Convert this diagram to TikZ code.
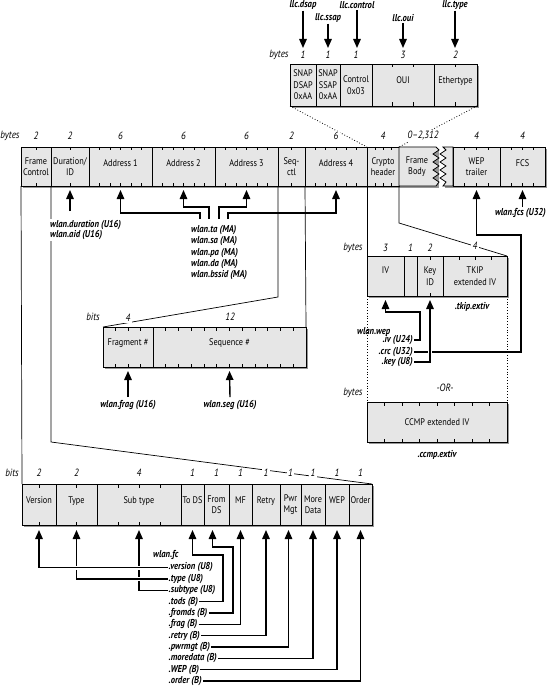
\documentclass[tikz,border=0pt]{standalone}
\usepackage{fontspec}
\setmainfont{PT Sans}[FakeStretch=0.86]
\usetikzlibrary{arrows.meta}
\definecolor{boxfill}{RGB}{230,230,230}
\definecolor{shadowc}{RGB}{150,150,150}
\newcommand\fld[6]{\node[fbox, minimum width={(#3-#2)*1pt}, minimum height={(#5-#4)*1pt}] (#1) at ({(#2+#3)/2},{(#4+#5)/2}) {#6};}
\newcommand\tks[3]{\foreach \tx in {#3} {\draw[tickln] (\tx,#1) -- ++(0,3.5) (\tx,#2) -- ++(0,-3.5);}}
\newcommand\shd[4]{\fill[shadowc] ({#1+1.6},{#3+1.6}) rectangle ({#2+1.6},{#4+1.6});}
\newcommand\rb[2]{\raisebox{#1}{#2}}
\newcommand\nm[4]{\node[num] (#1) at (#2,#3) {#4};}
\begin{document}
\begin{tikzpicture}[x=1pt,y=-1pt,
  fbox/.style={draw, fill=boxfill, line width=0.8pt, inner sep=0pt, outer sep=0pt, align=center, font=\fontsize{9.6}{11.6}\selectfont},
  tickln/.style={line width=0.7pt},
  lbl/.style={font=\fontsize{10}{11}\selectfont\bfseries\itshape, inner sep=1pt},
  num/.style={font=\fontsize{10.5}{12}\selectfont\itshape, fill=white, inner sep=1.5pt},
  arr/.style={line width=1.4pt, -{Triangle[width=7.5pt,length=9pt]}},
  halo/.style={white, line width=4pt},
  conn/.style={line width=0.7pt},
  dots/.style={line width=0.8pt, dotted}
]
\fill[white] (0,0) rectangle (548,687);
\useasboundingbox (0,0) rectangle (548,687);

% ---------- SNAP row ----------
\shd{290}{477}{64}{106}
\fld{dsap}{290}{316}{64}{106}{SNAP\\DSAP\\0xAA}
\fld{ssap}{316}{340}{64}{106}{SNAP\\SSAP\\0xAA}
\fld{ctl}{340}{372}{64}{106}{Control\\0x03}
\fld{oui}{372}{434}{64}{106}{\rb{10pt}{OUI}}
\fld{eth}{434}{477}{64}{106}{\rb{10pt}{Ethertype}}
\tks{64}{106}{392.7,413.3,455.5}

% ---------- main row ----------
\shd{21}{437}{147}{186}
\shd{443}{545}{147}{186}
\fld{fc}{21}{51}{147}{186}{Frame\\Control}
\fld{dur}{51}{89}{147}{186}{Duration/\\ID}
\fld{aa}{89}{152}{147}{186}{\rb{7pt}{Address 1}}
\fld{ab}{152}{215}{147}{186}{\rb{7pt}{Address 2}}
\fld{ac}{215}{278}{147}{186}{\rb{7pt}{Address 3}}
\fld{sq}{278}{305}{147}{186}{Seq-\\ctl}
\fld{ad}{305}{367}{147}{186}{\rb{7pt}{Address 4}}
\fld{cr}{367}{399}{147}{186}{Crypto\\header}
\filldraw[fill=boxfill, line width=0.8pt] (399,147) -- (436,147) -- (439,150) -- (433,154) -- (439,158) -- (433,162) -- (439,166) -- (433,170) -- (439,174) -- (433,178) -- (439,182) -- (436,186) -- (399,186) -- cycle;
\filldraw[fill=boxfill, line width=0.8pt] (453,147) -- (443,147) -- (446,150) -- (440,154) -- (446,158) -- (440,162) -- (446,166) -- (440,170) -- (446,174) -- (440,178) -- (446,182) -- (443,186) -- (453,186) -- cycle;
\node[fbox, draw=none, fill=none] (bd) at (417,166.5) {Frame\\Body};
\fld{wt}{453}{500}{147}{186}{WEP\\trailer}
\fld{fcs}{500}{545}{147}{186}{\rb{7pt}{FCS}}
\tks{147}{186}{36,70,99.5,110,120.5,131,141.5,162.5,173,183.5,194,204.5,225.5,236,246.5,257,267.5,291.5,315.3,325.7,336,346.3,356.7,375,383,391,464.75,476.5,488.25,511.25,522.5,533.75}

% ---------- crypto row ----------
\shd{367}{507}{256}{296}
\fld{iv}{367}{404}{256}{296}{\rb{11pt}{IV}}
\fld{pad}{404}{417}{256}{296}{}
\fld{kid}{417}{443}{256}{296}{Key\\ID}
\fld{tkip}{443}{507}{256}{296}{TKIP\\extended IV}
\tks{256}{296}{430}
\foreach \tx in {459,475,491} {\draw[tickln] (\tx,256) -- ++(0,3.5);}

% ---------- CCMP ----------
\shd{367}{507}{402}{442}
\fld{ccmp}{367}{507}{402}{442}{CCMP extended IV}
\tks{402}{442}{384.5,402,419.5,437,454.5,472,489.5}

% ---------- fragment row ----------
\shd{103}{306}{327}{367}
\fld{frag}{103}{153}{327}{367}{\rb{10pt}{Fragment \#}}
\fld{seqn}{153}{306}{327}{367}{\rb{10pt}{Sequence \#}}
\tks{327}{367}{115.5,128,140.5,165.75,178.5,191.25,204,216.75,229.5,242.25,255,267.75,280.5,293.25}

% ---------- frame control row ----------
\shd{22}{372}{484}{525}
\fld{ver}{22}{56}{484}{525}{\rb{9pt}{Version}}
\fld{typ}{56}{97}{484}{525}{\rb{9pt}{Type}}
\fld{sub}{97}{181}{484}{525}{\rb{9pt}{Sub type}}
\fld{tods}{181}{204}{484}{525}{\rb{9pt}{To DS}}
\fld{frds}{204}{229}{484}{525}{From\\DS}
\fld{mf}{229}{252}{484}{525}{\rb{9pt}{MF}}
\fld{rtry}{252}{280}{484}{525}{\rb{9pt}{Retry}}
\fld{pwr}{280}{301}{484}{525}{Pwr\\Mgt}
\fld{more}{301}{325}{484}{525}{More\\Data}
\fld{wepb}{325}{349}{484}{525}{\rb{9pt}{WEP}}
\fld{ord}{349}{372}{484}{525}{\rb{9pt}{Order}}
\tks{484}{525}{39,76.5,118,139,160}

% ---------- labels used as connector ends ----------
\node[lbl] (ldsap) at (303,5) {llc.dsap};
\node[lbl] (lssap) at (328,18) {llc.ssap};
\node[lbl] (lctl) at (357,5) {llc.control};
\node[lbl] (loui) at (403,18) {llc.oui};
\node[lbl] (ltype) at (455,5) {llc.type};
\coordinate (tdsap) at (303,48);
\coordinate (tssap) at (328,48);
\coordinate (tctl) at (357,48);
\coordinate (toui) at (403,48);
\coordinate (ttype) at (455,48);

\node[lbl, anchor=west] (lta) at (190,230) {wlan.ta (MA)};
\node[lbl, anchor=west] (lsa) at (190,241.5) {wlan.sa (MA)};
\node[lbl, anchor=west] (lpa) at (190,253) {wlan.pa (MA)};
\node[lbl, anchor=west] (lda) at (190,264) {wlan.da (MA)};
\node[lbl, anchor=west] (lbssid) at (190,275) {wlan.bssid (MA)};

\node[lbl, anchor=east] (lfcs) at (547,213) {wlan.fcs (U32)};
\node[lbl] (ltkip) at (472,307) {.tkip.extiv};
\node[lbl, anchor=west] (lwep) at (356,332) {wlan.wep};
\node[lbl, anchor=east] (liv) at (414,340) {.iv (U24)};
\node[lbl, anchor=east] (lcrc) at (414,352) {.crc (U32)};
\node[lbl, anchor=east] (lkey) at (414,362) {.key (U8)};
\node[lbl] (lccmp) at (437,455) {.ccmp.extiv};

\node[lbl] (lfrag) at (128,405) {wlan.frag (U16)};
\node[lbl] (lseg) at (230,405) {wlan.seg (U16)};

\node[lbl, anchor=west] (lfc) at (152,555) {wlan.fc};
\node[lbl, anchor=west] (lver) at (167.5,567.5) {.version (U8)};
\node[lbl, anchor=west] (ltyp) at (167.5,578.9) {.type (U8)};
\node[lbl, anchor=west] (lsub) at (167.5,590.2) {.subtype (U8)};
\node[lbl, anchor=west] (ltods) at (167.5,601.6) {.tods (B)};
\node[lbl, anchor=west] (lfrds) at (167.5,612.9) {.fromds (B)};
\node[lbl, anchor=west] (lfrg) at (167.5,624.3) {.frag (B)};
\node[lbl, anchor=west] (lrtry) at (167.5,635.6) {.retry (B)};
\node[lbl, anchor=west] (lpwr) at (167.5,647) {.pwrmgt (B)};
\node[lbl, anchor=west] (lmore) at (167.5,658.3) {.moredata (B)};
\node[lbl, anchor=west] (lwepb) at (167.5,669.7) {.WEP (B)};
\node[lbl, anchor=west] (lord) at (167.5,681) {.order (B)};

% ---------- expansion lines ----------
\draw[dots] (dsap.south west) -- (cr.north west);
\draw[dots] (eth.south east) -- (cr.north east);
\coordinate (fcbend) at (51,442);
\draw[conn] (fc.south west) -- (ver.north west);
\draw[conn] (fc.south east) -- (fcbend) -- (ord.north east);
\coordinate (sqbend) at (278,297);
\draw[conn] (sq.south west) -- (sqbend) -- (frag.north west);
\draw[conn] (sq.south east) -- (seqn.north east);
\coordinate (crbend) at (399,223);
\draw[conn] (cr.south west) -- (iv.north west);
\draw[conn] (cr.south east) -- (crbend) -- (tkip.north east);
\draw[dots] (iv.south west) -- (ccmp.north west);
\draw[dots] (tkip.south east) -- (ccmp.north east);

% ---------- arrows ----------
\draw[arr] (ldsap.south) -- (tdsap);
\draw[arr] (lssap.south) -- (tssap);
\draw[arr] (lctl.south) -- (tctl);
\draw[arr] (loui.south) -- (toui);
\draw[arr] (ltype.south) -- (ttype);

\coordinate (durT) at (70,211);
\draw[arr] (durT) -- ([yshift=-4pt]dur.south);
\coordinate (ta1) at (200,219);
\coordinate (ta2) at (209,219);
\coordinate (ta3) at (219,219);
\coordinate (ta4) at (228,219);
\draw[arr] (ta1) |- (120.5,213) -- ([yshift=-4pt]aa.south);
\draw[arr] (ta2) |- (183.5,207) -- ([yshift=-4pt]ab.south);
\draw[arr] (ta3) |- (246.5,207) -- ([yshift=-4pt]ac.south);
\draw[arr] (ta4) |- (336,213) -- ([yshift=-4pt]ad.south);
\draw[arr] (fcs.south |- lfcs.north) -- ([yshift=-4pt]fcs.south);

\draw[arr] (lcrc.east) -| (521,235) -| ([yshift=-4pt]wt.south);
\draw[arr] (liv.east) -| (420,312) -| ([yshift=-4pt]iv.south);
\draw[halo] (lkey.east) -| ([yshift=-4pt]kid.south);
\draw[arr] (lkey.east) -| ([yshift=-4pt]kid.south);

\draw[arr] ([yshift=2pt]lfrag.north) -- ([yshift=-4pt]frag.south);
\draw[arr] ([yshift=2pt]lseg.north) -- ([yshift=-4pt]seqn.south);

\draw[arr] (lsub.west) -| ([yshift=-5pt]sub.south);
\draw[halo] (ltyp.west) -| ([yshift=-5pt]typ.south);
\draw[arr] (ltyp.west) -| ([yshift=-5pt]typ.south);
\draw[halo] (lver.west) -| ([yshift=-5pt]ver.south);
\draw[arr] (lver.west) -| ([yshift=-5pt]ver.south);
\draw[arr] (ltods.east) -| (223,555) -| ([yshift=-5pt]tods.south);
\draw[arr] (lfrds.east) -| (233,547) -| ([xshift=-4pt,yshift=-5pt]frds.south);
\draw[arr] (lfrg.east) -| ([yshift=-5pt]mf.south);
\draw[arr] (lrtry.east) -| ([yshift=-5pt]rtry.south);
\draw[arr] (lpwr.east) -| ([xshift=-2pt,yshift=-5pt]pwr.south);
\draw[arr] (lmore.east) -| ([yshift=-5pt]more.south);
\draw[arr] (lwepb.east) -| ([yshift=-5pt]wepb.south);
\draw[arr] (lord.east) -| ([yshift=-5pt]ord.south);

% ---------- labels drawn over lines ----------
\node[lbl, anchor=west, fill=white] (ldur) at (49,225) {wlan.duration (U16)};
\node[lbl, anchor=west, fill=white] (laid) at (49,235.5) {wlan.aid (U16)};

\nm{sbytes}{279}{55}{bytes}
\nm{s1}{303}{55}{1}
\nm{s2}{328}{55}{1}
\nm{s3}{356}{55}{1}
\nm{s4}{403}{55}{3}
\nm{s5}{455.5}{55}{2}

\nm{mbytes}{10}{136}{bytes}
\nm{m1}{36}{136}{2}
\nm{m2}{70}{136}{2}
\nm{m3}{120.5}{136}{6}
\nm{m4}{183.5}{136}{6}
\nm{m5}{246.5}{136}{6}
\nm{m6}{291.5}{136}{2}
\nm{m7}{336}{136}{6}
\nm{m8}{383}{136}{4}
\nm{m9}{423}{136}{0--2,312}
\nm{m10}{476.5}{136}{4}
\nm{m11}{522.5}{136}{4}

\nm{cbytes}{353}{248}{bytes}
\nm{c1}{385.5}{248}{3}
\nm{c2}{410.5}{248}{1}
\nm{c3}{430}{248}{2}
\nm{c4}{475}{246}{4}

\nm{fbits}{93}{317}{bits}
\nm{f1}{128}{318}{4}
\nm{f2}{230}{317}{12}

\nm{orl}{445}{388}{-OR-}
\nm{obytes}{353}{393}{bytes}

\nm{bbits}{12}{473}{bits}
\nm{b1}{39}{473}{2}
\nm{b2}{76.5}{473}{2}
\nm{b3}{139}{473}{4}
\nm{b4}{192.5}{473}{1}
\nm{b5}{216.5}{473}{1}
\nm{b6}{240.5}{473}{1}
\nm{b7}{266}{473}{1}
\nm{b8}{290.5}{473}{1}
\nm{b9}{313}{473}{1}
\nm{b10}{337}{473}{1}
\nm{b11}{360.5}{473}{1}
\end{tikzpicture}
\end{document}
